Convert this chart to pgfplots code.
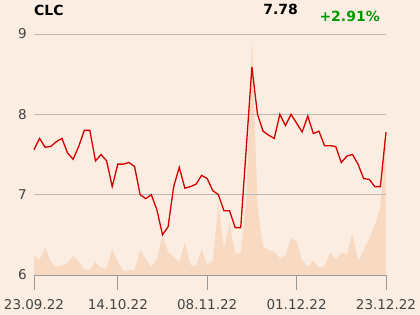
\documentclass[border=0pt]{standalone}
\usepackage{pgfplots}
\pgfplotsset{compat=1.18}
\usepackage{pgfplotstable}
\usepackage{fontspec}
\setmainfont{DejaVu Sans}
\definecolor{bg}{HTML}{FBEDE1}
\definecolor{vol}{HTML}{F8DAC3}
\definecolor{pr}{HTML}{D40000}
\definecolor{grd}{HTML}{B8B8B8}
\definecolor{tk}{HTML}{444444}
\definecolor{gr}{HTML}{009900}
\pgfplotstableread{
i p
0 7.56
1 7.70
2 7.59
3 7.60
4 7.66
5 7.70
6 7.52
7 7.44
8 7.60
9 7.80
10 7.80
11 7.42
12 7.50
13 7.42
14 7.10
15 7.38
16 7.38
17 7.40
18 7.35
19 7.00
20 6.95
21 7.00
22 6.81
23 6.50
24 6.60
25 7.10
26 7.34
27 7.08
28 7.10
29 7.13
30 7.24
31 7.20
32 7.05
33 7.00
34 6.80
35 6.80
36 6.59
37 6.59
38 7.59
39 8.59
40 8.00
41 7.79
42 7.74
43 7.70
44 8.00
45 7.86
46 8.00
47 7.89
48 7.78
49 7.98
50 7.76
51 7.79
52 7.61
53 7.61
54 7.60
55 7.40
56 7.48
57 7.50
58 7.38
59 7.20
60 7.19
61 7.10
62 7.10
63 7.78
}\price
\pgfplotstableread{
i v
0 20
1 15
2 28
3 13
4 8
5 10
6 12
7 19
8 14
9 5
10 5
11 13
12 7
13 7
14 26
15 13
16 4
17 5
18 5
19 25
20 16
21 8
22 16
23 40
24 23
25 18
26 13
27 33
28 10
29 9
30 26
31 10
32 14
33 72
34 27
35 52
36 22
37 22
38 75
39 239
40 70
41 28
42 25
43 23
44 17
45 20
46 37
47 33
48 15
49 8
50 14
51 7
52 9
53 22
54 16
55 22
56 20
57 42
58 14
59 25
60 37
61 50
62 68
63 140
}\volume
\begin{document}
\begin{tikzpicture}[x=1pt,y=1pt]
\fill[bg] (0,0) rectangle (420,315);
\useasboundingbox (0,0) rectangle (420,315);
\begin{axis}[at={(34pt,40pt)}, anchor=south west, width=352pt, height=241pt, scale only axis,
  xmin=0, xmax=63, ymin=0, ymax=241, hide axis]
\addplot[fill=vol, draw=none] table[x=i,y=v] {\volume} \closedcycle;
\end{axis}
\begin{axis}[at={(34pt,40pt)}, anchor=south west, width=352pt, height=241pt, scale only axis,
  xmin=0, xmax=63, ymin=6, ymax=9,
  axis x line*=bottom, axis y line*=left,
  y axis line style={draw=none},
  x axis line style={draw=gray!80, line width=0.8pt},
  xtick={0,15,31,47,63},
  xticklabels={23.09.22,14.10.22,08.11.22,01.12.22,23.12.22},
  ytick={6,7,8,9},
  xtick align=outside,
  major tick length=15pt,
  major x tick style={draw=gray!80, line width=0.8pt},
  major y tick style={draw=none},
  ymajorgrids,
  major grid style={draw=grd, line width=0.8pt},
  /pgf/number format/assume math mode=true,
  tick label style={font=\fontsize{13.5}{16}\selectfont, text=tk},
  yticklabel style={inner sep=0pt, xshift=-7pt},
  xticklabel style={inner sep=0pt, yshift=-9pt},
  clip=false]
\addplot[pr, line width=1.3pt] table[x=i,y=p] {\price};
\end{axis}
\node[anchor=base west, inner sep=0pt, font=\bfseries\fontsize{14}{16}\selectfont] at (34,299.3) {CLC};
\node[anchor=base east, inner sep=0pt, font=\bfseries\fontsize{14}{16}\selectfont] at (298,300.7) {7.78};
\node[anchor=base east, inner sep=0pt, text=gr, font=\bfseries\fontsize{14}{16}\selectfont] at (380,293.3) {+2.91\%};
\end{tikzpicture}
\end{document}
